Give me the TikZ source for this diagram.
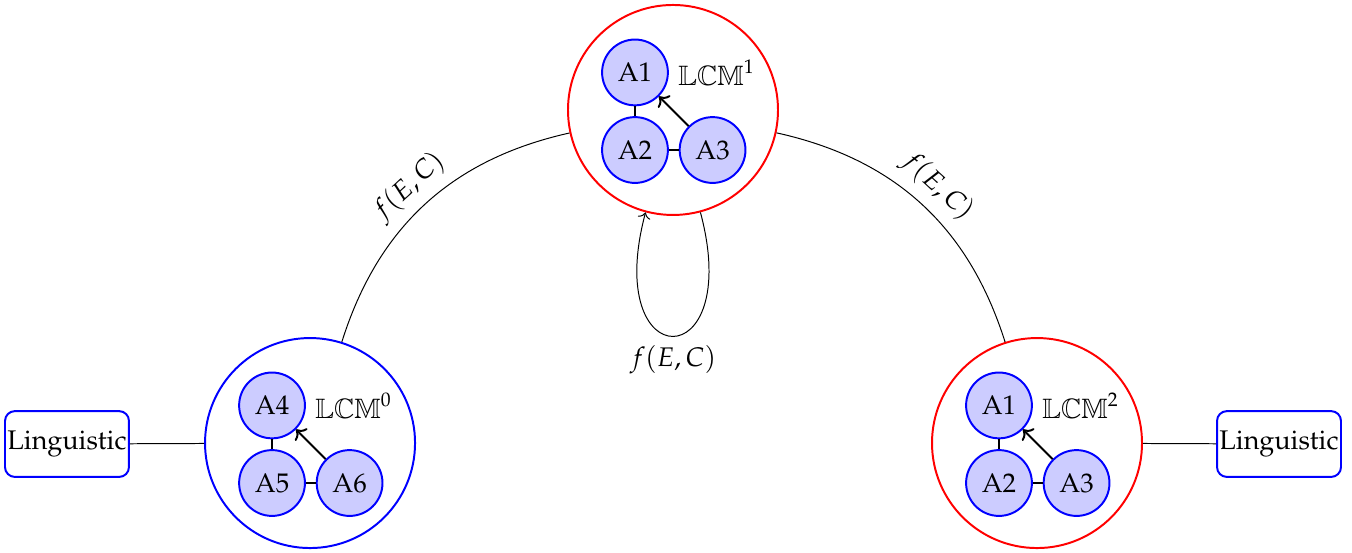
\documentclass[tikz,border=0pt,11pt]{standalone}
\usepackage[T1]{fontenc}
\usepackage{mathpazo}
\usepackage{amssymb}
\DeclareMathAlphabet{\lcmbb}{U}{msb}{m}{n}
\usetikzlibrary{arrows.meta,positioning}

\tikzset{
  lcmcircle/.style={circle,thick,minimum size=3cm,inner sep=0pt},
  agent/.style={circle,draw=blue,thick,fill=blue!20,minimum size=0.94cm,inner sep=0pt},
  linguistic/.style={draw=blue,thick,rounded corners=4pt,minimum height=0.94cm,inner sep=1pt},
}

\begin{document}
\begin{tikzpicture}
  \useasboundingbox (0,0) rectangle (19.314,-7.886);
  % the three LCM circles
  \node[lcmcircle,draw=red]  (lcm1) at (9.614,-1.571) {};
  \node[lcmcircle,draw=blue] (lcm0) at (4.429,-6.329) {};
  \node[lcmcircle,draw=red]  (lcm2) at (14.814,-6.329) {};
  % agents inside LCM^1
  \node[agent] (t2) at (9.071,-2.143) {A2};
  \node[agent,above=0.14cm of t2] (t1) {A1};
  \node[agent,right=0.14cm of t2] (t3) {A3};
  \node[right=0pt of t1] (tl) {$\lcmbb{LCM}^1$};
  \draw[thick] (t1) -- (t2);
  \draw[thick] (t2) -- (t3);
  \draw[->,thick] (t3) -- (t1);
  % agents inside LCM^0
  \node[agent] (l2) at (3.886,-6.900) {A5};
  \node[agent,above=0.14cm of l2] (l1) {A4};
  \node[agent,right=0.14cm of l2] (l3) {A6};
  \node[right=0pt of l1] (ll) {$\lcmbb{LCM}^0$};
  \draw[thick] (l1) -- (l2);
  \draw[thick] (l2) -- (l3);
  \draw[->,thick] (l3) -- (l1);
  % agents inside LCM^2
  \node[agent] (r2) at (14.271,-6.900) {A2};
  \node[agent,above=0.14cm of r2] (r1) {A1};
  \node[agent,right=0.14cm of r2] (r3) {A3};
  \node[right=0pt of r1] (rl) {$\lcmbb{LCM}^2$};
  \draw[thick] (r1) -- (r2);
  \draw[thick] (r2) -- (r3);
  \draw[->,thick] (r3) -- (r1);
  % linguistic boxes
  \node[linguistic] (lingL) at (0.957,-6.343) {Linguistic};
  \node[linguistic] (lingR) at (18.271,-6.343) {Linguistic};
  \draw (lingL) -- (lcm0);
  \draw (lcm2) -- (lingR);
  % transitions
  \draw (lcm0) to[bend left] node[midway,above,sloped] {$f(E,C)$} (lcm1);
  \draw (lcm1) to[bend left] node[midway,above,sloped] {$f(E,C)$} (lcm2);
  \draw[->] (lcm1) to[out=-75,in=-105,looseness=8] node[below] {$f(E,C)$} (lcm1);
\end{tikzpicture}
\end{document}
